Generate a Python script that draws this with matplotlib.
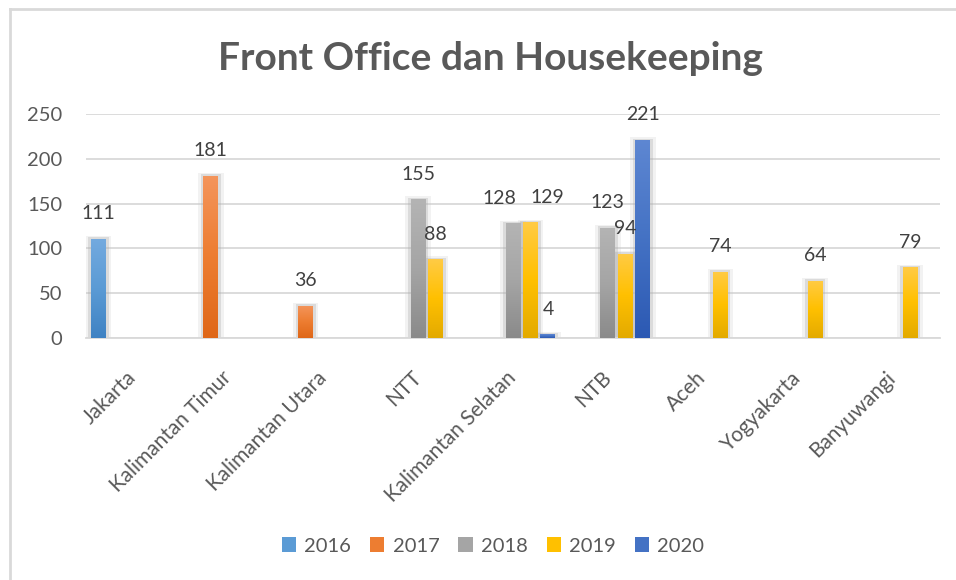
import numpy as np
import matplotlib
matplotlib.use("Agg")
import matplotlib.pyplot as plt
from matplotlib.patches import Patch
from matplotlib.lines import Line2D
from matplotlib.colors import LinearSegmentedColormap
from matplotlib.transforms import ScaledTranslation

plt.rcParams['font.family'] = ['Lato', 'DejaVu Sans']

categories = ["Jakarta", "Kalimantan Timur", "Kalimantan Utara", "NTT",
              "Kalimantan Selatan", "NTB", "Aceh", "Yogyakarta", "Banyuwangi"]
years = ["2016", "2017", "2018", "2019", "2020"]
v2016 = [111, 0, 0, 0, 0, 0, 0, 0, 0]
v2017 = [0, 181, 36, 0, 0, 0, 0, 0, 0]
v2018 = [0, 0, 0, 155, 128, 123, 0, 0, 0]
v2019 = [0, 0, 0, 88, 129, 94, 74, 64, 79]
v2020 = [0, 0, 0, 0, 4, 221, 0, 0, 0]
series = [v2016, v2017, v2018, v2019, v2020]

# (top colour, mid colour, bottom colour)
grads = [("#74AADF", "#5B9BD5", "#3F82C3"),
         ("#F4955C", "#ED7D31", "#DF6718"),
         ("#B4B4B4", "#A5A5A5", "#8A8A8A"),
         ("#FFCB45", "#FFC000", "#E3AA00"),
         ("#5E87D2", "#4472C4", "#2C59B3")]

# manual label shifts in points (x) for crowded labels
label_dx = {(2, 4): -9.5, (3, 4): 12.5}

fig = plt.figure(figsize=(9.56, 5.8), dpi=100)
ax = fig.add_axes([86/956, 1-338/580, (940-86)/956, (338-114)/580])

x = np.arange(len(categories))
slot = 0.184
bw = 0.158
for i, vals in enumerate(series):
    vals = np.array(vals, dtype=float)
    pos = x + (i - 2) * slot
    mask = vals > 0
    # soft shadow
    ax.bar(pos[mask], vals[mask] + 3.0, width=bw + 0.11, color="#C8C8C8", alpha=0.22, zorder=2, linewidth=0)
    ax.bar(pos[mask], vals[mask] + 1.5, width=bw + 0.055, color="#A6A6A6", alpha=0.30, zorder=2, linewidth=0)
    bars = ax.bar(pos[mask], vals[mask], width=bw, color=grads[i][1], zorder=3, linewidth=0)
    cmap = LinearSegmentedColormap.from_list("g%d" % i, [grads[i][2], grads[i][1], grads[i][0]])
    grad = np.linspace(0, 1, 256).reshape(-1, 1)
    for b, p, v in zip(bars, pos[mask], vals[mask]):
        im = ax.imshow(grad, extent=[p - bw/2, p + bw/2, 0, v], origin="lower",
                       aspect="auto", cmap=cmap, zorder=4)
        im.set_clip_path(b)
    for ci in np.where(mask)[0]:
        dx = label_dx.get((i, ci), 0)
        ax.annotate(f"{int(vals[ci])}", xy=(x[ci] + (i - 2) * slot, vals[ci]),
                    xytext=(dx, 18), textcoords="offset points",
                    ha="center", va="center", fontsize=14, color="#404040", zorder=5)

ax.set_xlim(-0.5, 8.5)
ax.set_ylim(0, 250)
ax.set_yticks([0, 50, 100, 150, 200, 250])
ax.yaxis.grid(True, color="#D9D9D9", linewidth=1.3, zorder=0)
ax.set_axisbelow(True)
for s in ["top", "right", "left"]:
    ax.spines[s].set_visible(False)
ax.spines["bottom"].set_color("#D9D9D9")
ax.spines["bottom"].set_linewidth(1.3)
ax.tick_params(axis="y", length=0, pad=17, labelsize=14.5, labelcolor="#595959")
ax.tick_params(axis="x", length=0, pad=14, labelsize=15, labelcolor="#595959")
ax.set_xticks(x)
ax.set_xticklabels(categories, rotation=45, ha="right", va="top",
                   rotation_mode="anchor")
shift = ScaledTranslation(-7/100, -10/100, fig.dpi_scale_trans)
for lbl in ax.get_xticklabels():
    lbl.set_transform(lbl.get_transform() + shift)

fig.text(490/956, 1-58/580, "Front Office dan Housekeeping", ha="center", va="center",
         fontsize=28, fontweight="bold", color="#595959")

handles = [Patch(facecolor=g[1], edgecolor="none") for g in grads]
fig.legend(handles, years, loc="center", bbox_to_anchor=(493/956, 1-546/580), ncol=5,
           frameon=False, fontsize=14.5, labelcolor="#595959", handlelength=0.7,
           handleheight=0.7, handletextpad=0.4, columnspacing=0.95)

# chart frame (top and left edges)
fig.add_artist(Line2D([9.5/956, 955/956], [1-8.5/580, 1-8.5/580], color="#D9D9D9", linewidth=2,
                      transform=fig.transFigure))
fig.add_artist(Line2D([9.5/956, 9.5/956], [0, 1-8.5/580], color="#D9D9D9", linewidth=2,
                      transform=fig.transFigure))

fig.savefig("out.png", dpi=100, facecolor="white")
